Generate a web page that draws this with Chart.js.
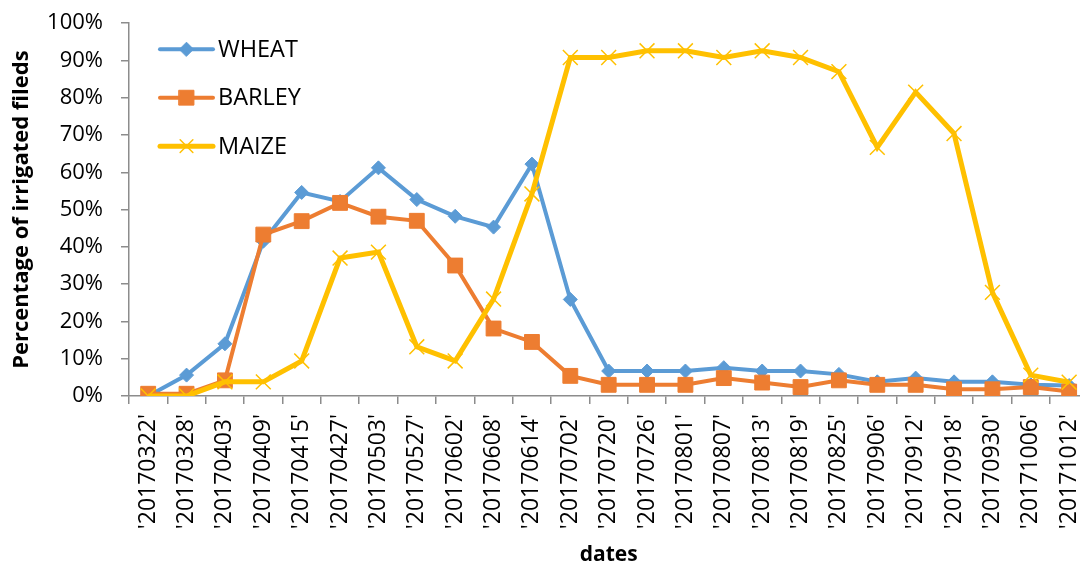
<!DOCTYPE html>
<html>
<head>
<meta charset="utf-8">
<script src="https://cdn.jsdelivr.net/npm/chart.js@4.4.1/dist/chart.umd.min.js"></script>
<style>
  html, body { margin: 0; padding: 0; background: #fff; overflow: hidden; }
  #wrap { position: relative; width: 1107px; height: 569px; overflow: hidden; }
  #c { position: absolute; left: 0; top: -8px; }
</style>
</head>
<body>
<div id="wrap"><canvas id="c" width="1107" height="577"></canvas></div>
<script>
// Acquisition dates of the image series
const dates = ['20170322','20170328','20170403','20170409','20170415','20170427','20170503',
  '20170527','20170602','20170608','20170614','20170702','20170720','20170726','20170801',
  '20170807','20170813','20170819','20170825','20170906','20170912','20170918','20170930',
  '20171006','20171012'];

// Share of irrigated fields per crop (%)
const wheat  = [0, 5.6, 14.0, 41.5, 54.6, 52.2, 61.2, 52.7, 48.2, 45.3, 62.2, 25.9, 6.7, 6.7,
  6.7, 7.6, 6.7, 6.7, 5.8, 3.8, 4.8, 3.8, 3.8, 3.0, 2.8];
const barley = [0.6, 0.6, 4.2, 43.3, 46.9, 51.8, 48.1, 47.0, 35.0, 18.1, 14.5, 5.4, 3.0, 3.0,
  3.0, 4.8, 3.6, 2.4, 4.2, 3.0, 3.0, 1.8, 1.8, 2.4, 1.2];
const maize  = [0, 0, 3.8, 3.8, 9.4, 37.0, 38.6, 13.2, 9.4, 26.0, 54.2, 90.8, 90.8, 92.6,
  92.6, 90.8, 92.6, 90.8, 87.0, 66.7, 81.5, 70.4, 27.8, 5.6, 3.7];

const seriesNames = ['WHEAT', 'BARLEY', 'MAIZE'];
const yTickStep = 10;
const yMax = 100;

const FONT = '"Open Sans", "Liberation Sans", sans-serif';
const AXIS_GREY = '#8c8c8c';

// Legend drawn inside the plot area: line sample + marker + name
const insideLegend = {
  id: 'insideLegend',
  afterDatasetsDraw(chart) {
    const ctx = chart.ctx;
    const area = chart.chartArea;
    const x0 = area.left + 31, x1 = area.left + 84, tx = area.left + 89;
    const rowTop = area.top + 26, rowGap = 48.5;
    chart.data.datasets.forEach((ds, i) => {
      const y = rowTop + i * rowGap;
      ctx.save();
      ctx.strokeStyle = ds.borderColor;
      ctx.lineWidth = ds.borderWidth;
      ctx.lineCap = 'round';
      ctx.beginPath();
      ctx.moveTo(x0, y);
      ctx.lineTo(x1, y);
      ctx.stroke();
      ctx.fillStyle = ds.pointBackgroundColor;
      ctx.strokeStyle = ds.pointBorderColor;
      ctx.lineWidth = ds.pointBorderWidth;
      Chart.helpers.drawPoint(ctx, {
        pointStyle: ds.pointStyle,
        radius: ds.legendRadius,
        borderWidth: ds.pointBorderWidth,
        rotation: 0
      }, (x0 + x1) / 2, y);
      ctx.fillStyle = '#000';
      ctx.font = '23.5px ' + FONT;
      ctx.textAlign = 'left';
      ctx.textBaseline = 'middle';
      ctx.fillText(ds.label, tx, y + 1);
      ctx.restore();
    });
  }
};

new Chart(document.getElementById('c'), {
  type: 'line',
  data: {
    labels: dates.map(d => "'" + d + "'"),
    datasets: [
      {
        label: seriesNames[0], data: wheat, order: 2,
        borderColor: '#5B9BD5', backgroundColor: '#5B9BD5', borderWidth: 4,
        pointStyle: 'rectRot', pointRadius: 7, legendRadius: 7,
        pointBackgroundColor: '#5B9BD5', pointBorderColor: '#5B9BD5', pointBorderWidth: 1
      },
      {
        label: seriesNames[1], data: barley, order: 1,
        borderColor: '#ED7D31', backgroundColor: '#ED7D31', borderWidth: 4,
        pointStyle: 'rect', pointRadius: 10.5, legendRadius: 10.5,
        pointBackgroundColor: '#ED7D31', pointBorderColor: '#ED7D31', pointBorderWidth: 1
      },
      {
        label: seriesNames[2], data: maize, order: 0,
        borderColor: '#FFC000', backgroundColor: '#FFC000', borderWidth: 5,
        pointStyle: 'crossRot', pointRadius: 10.5, legendRadius: 9,
        pointBackgroundColor: '#FFC000', pointBorderColor: '#FFC000', pointBorderWidth: 1.5
      }
    ]
  },
  options: {
    responsive: false,
    animation: false,
    devicePixelRatio: 1,
    layout: { padding: { left: 0, right: 0, top: 14, bottom: 0 } },
    elements: { line: { tension: 0 } },
    plugins: { legend: { display: false }, tooltip: { enabled: false } },
    scales: {
      x: {
        offset: true,
        afterFit(scale) { scale.height = 173; },
        border: { display: true, color: AXIS_GREY, width: 1.5 },
        grid: { display: true, drawOnChartArea: false, drawTicks: true, tickLength: 8,
                color: AXIS_GREY, lineWidth: 1.5, offset: true },
        ticks: { autoSkip: false, maxRotation: 90, minRotation: 90, padding: 10,
                 color: '#000', font: { family: FONT, size: 23 } },
        title: { display: true, text: 'dates', color: '#000', padding: { top: 0, bottom: 1 },
                 font: { family: FONT, size: 21, weight: 'bold' } }
      },
      y: {
        min: 0, max: yMax,
        afterFit(scale) { scale.width = 129; },
        border: { display: true, color: AXIS_GREY, width: 1.5 },
        grid: { display: true, drawOnChartArea: false, drawTicks: true, tickLength: 8,
                color: AXIS_GREY, lineWidth: 1.5 },
        ticks: { stepSize: yTickStep, padding: 18, color: '#000',
                 font: { family: FONT, size: 22 },
                 callback: v => v + '%' },
        title: { display: true, text: 'Percentage of irrigated fileds', color: '#000',
                 padding: { top: 9, bottom: 0 },
                 font: { family: FONT, size: 22, weight: 'bold' } }
      }
    }
  },
  plugins: [insideLegend]
});
</script>
</body>
</html>
